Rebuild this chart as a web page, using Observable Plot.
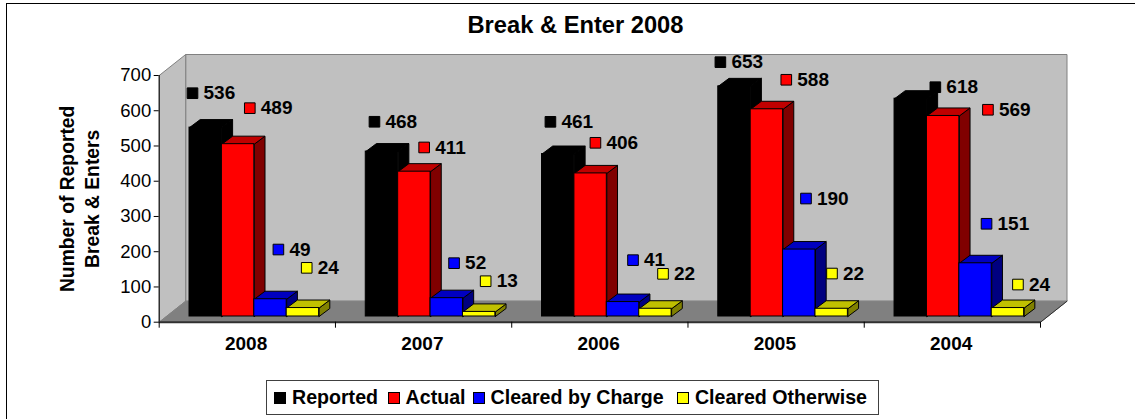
<!DOCTYPE html>
<html>
<head>
<meta charset="utf-8">
<script src="https://cdn.jsdelivr.net/npm/d3@7"></script>
<script src="https://cdn.jsdelivr.net/npm/@observablehq/plot@0.6"></script>
<style>
  html, body { margin: 0; padding: 0; background: #fff; overflow: hidden; }
  #page { position: relative; width: 1135px; height: 419px; overflow: hidden; font-family: "Liberation Sans", Arial, sans-serif; }
  #edge { position: absolute; left: 6px; top: 3px; width: 1200px; height: 500px; border-left: 1.5px solid #000; border-top: 1.5px solid #000; z-index: 2; pointer-events: none; }
  #title { height: 45px; line-height: 51px; text-align: center; font-size: 23.7px; font-weight: 700; color: #000; padding-left: 16px; box-sizing: border-box; }
  #chart svg { display: block; }
  #legend { position: absolute; left: 266px; top: 380px; width: 613px; height: 35px; box-sizing: border-box; border: 1px solid #404040; display: flex; align-items: center; padding-left: 7px; font-size: 19.6px; font-weight: 700; color: #000; white-space: nowrap; }
  #legend i { display: inline-block; width: 10px; height: 10px; border: 1px solid #000; margin-right: 6px; }
  #legend span { display: flex; align-items: center; box-sizing: border-box; }
</style>
</head>
<body>
<div id="page">
  <div id="edge"></div>
  <div id="title">Break &amp; Enter 2008</div>
  <div id="chart"></div>
  <div id="legend"></div>
</div>
<script>
const categories = ["2008", "2007", "2006", "2005", "2004"];
const seriesNames = ["Reported", "Actual", "Cleared by Charge", "Cleared Otherwise"];
const reported = [536, 468, 461, 653, 618];
const actual = [489, 411, 406, 588, 569];
const clearedByCharge = [49, 52, 41, 190, 151];
const clearedOtherwise = [24, 13, 22, 22, 24];
const seriesValues = [reported, actual, clearedByCharge, clearedOtherwise];

// Face colours per series
const frontColors = ["#000000", "#ff0000", "#0000ff", "#ffff00"];
const topColors = ["#000000", "#c00000", "#0000c0", "#c0c000"];
const sideColors = ["#000000", "#800000", "#000080", "#808000"];

// Hand-placed data-label nudges, [right, up] from each bar's front top-left corner, in px
const labelNudges = [
  [[3, 34.4], [8.7, 29.8], [8.4, 32.2], [2.1, 24.2], [40.8, 11.5]],
  [[27.9, 36], [26, 24.2], [21, 30.6], [35.6, 29.5], [61, 6.2]],
  [[24.1, 49.7], [23.5, 35], [26.2, 41.9], [22.9, 51], [27.2, 39.5]],
  [[20, 40.2], [22.7, 30.7], [23.8, 34.9], [16.5, 35.2], [26.2, 23.5]]
];
const legendItemWidths = [113.6, 85, 204.4, 190];

// Layout of the 3D box, in px of the page
const svgTop = 45, svgHeight = 315;
const plotLeft = 158.7, plotRight = 1040, plotTop = 75, plotBottom = 321.7;
const pxPerCat = (plotRight - plotLeft) / categories.length;
const pxPerUnit = (plotBottom - plotTop) / 700;
const toX = (px) => px / pxPerCat;
const toY = (px) => px / pxPerUnit;

const wallDX = toX(26.5), wallDY = toY(21);
const barDX = toX(10.7), barDY = toY(8);
const groupStart = toX(30.3), barW = toX(32.4), barBase = toY(5.7);

const bars = seriesValues.flatMap((vals, s) => vals.map((v, c) => {
  const x1 = c + groupStart + s * barW;
  return {s, c, v, x1, x2: x1 + barW, y1: barBase, y2: barBase + v};
}));

const quad = (id, pts) => pts.concat([pts[0]]).map(([x, y]) => ({id, x, y}));
const sideFaces = (s) => bars.filter(b => b.s === s).flatMap(b => quad(b.c, [
  [b.x2, b.y1], [b.x2 + barDX, b.y1 + barDY], [b.x2 + barDX, b.y2 + barDY], [b.x2, b.y2]
]));
const topFaces = (s) => bars.filter(b => b.s === s).flatMap(b => quad(b.c, [
  [b.x1, b.y2], [b.x2, b.y2], [b.x2 + barDX, b.y2 + barDY], [b.x1 + barDX, b.y2 + barDY]
]));

const n = categories.length;
const backWall = quad("back", [[wallDX, wallDY], [n + wallDX, wallDY], [n + wallDX, 700 + wallDY], [wallDX, 700 + wallDY]]);
const sideWall = quad("side", [[0, 0], [wallDX, wallDY], [wallDX, 700 + wallDY], [0, 700]]);
const floor = quad("floor", [[0, 0], [n, 0], [n + wallDX, wallDY], [wallDX, wallDY]]);
const floorEdge = [{x: n, y: 0}, {x: n + wallDX, y: wallDY}];

const labels = bars.map(b => ({
  s: b.s,
  text: String(b.v),
  x: b.x1 + toX(labelNudges[b.s][b.c][0]),
  y: b.y2 + toY(labelNudges[b.s][b.c][1])
}));

const barMarks = seriesNames.flatMap((_, s) => [
  Plot.line(sideFaces(s), {x: "x", y: "y", z: "id", fill: sideColors[s], stroke: "#000", strokeWidth: 1}),
  Plot.line(topFaces(s), {x: "x", y: "y", z: "id", fill: topColors[s], stroke: "#000", strokeWidth: 1}),
  Plot.rect(bars.filter(b => b.s === s), {x1: "x1", x2: "x2", y1: "y1", y2: "y2", fill: frontColors[s], stroke: "#000", strokeWidth: 1})
]);

const plot = Plot.plot({
  width: 1135,
  height: svgHeight,
  marginLeft: plotLeft,
  marginRight: 1135 - plotRight,
  marginTop: plotTop - svgTop,
  marginBottom: svgTop + svgHeight - plotBottom,
  style: {background: "transparent", fontFamily: "'Liberation Sans', Arial, sans-serif", color: "#000"},
  x: {domain: [0, n]},
  y: {domain: [0, 700]},
  marks: [
    Plot.line(backWall, {x: "x", y: "y", z: "id", fill: "#c0c0c0", stroke: "#808080", strokeWidth: 1}),
    Plot.line(sideWall, {x: "x", y: "y", z: "id", fill: "#c0c0c0", stroke: "#808080", strokeWidth: 1}),
    Plot.line(floor, {x: "x", y: "y", z: "id", fill: "#808080", stroke: "#808080", strokeWidth: 1}),
    Plot.line(floorEdge, {x: "x", y: "y", stroke: "#303030", strokeWidth: 1}),
    ...barMarks,
    Plot.ruleX([0], {y1: 0, y2: 700, stroke: "#000", strokeWidth: 1}),
    Plot.ruleY([0], {x1: 0, x2: n, stroke: "#303030", strokeWidth: 2}),
    Plot.axisY({ticks: d3.range(0, 701, 100), tickSize: 5, tickPadding: 3, fontSize: 18.5, label: null, strokeOpacity: 1, stroke: "#000"}),
    Plot.axisX({ticks: d3.range(0, n + 1), tickSize: 6, tickFormat: () => "", label: null, stroke: "#000", strokeOpacity: 1}),
    Plot.axisX({ticks: categories.map((_, i) => i + 0.493), tickSize: 0, tickPadding: 14, fontSize: 19, fontWeight: 700, label: null,
      tickFormat: (d) => categories[Math.floor(d)]}),
    Plot.text(["Number of Reported\nBreak & Enters"], {
      frameAnchor: "left", dx: -81, dy: 0, rotate: -90, textAnchor: "middle", lineHeight: 1.3,
      fontSize: 19.3, fontWeight: 700, fill: "#000"
    }),
    Plot.dot(labels, {x: "x", y: "y", symbol: "square", r: 6, fill: (d) => frontColors[d.s], stroke: "#000", strokeWidth: 1}),
    Plot.text(labels, {x: "x", y: "y", text: "text", dx: 11, textAnchor: "start", fontSize: 19, fontWeight: 700, fill: "#000"})
  ]
});
document.getElementById("chart").appendChild(plot);

const legend = document.getElementById("legend");
seriesNames.forEach((name, s) => {
  const item = document.createElement("span");
  item.style.width = legendItemWidths[s] + "px";
  const swatch = document.createElement("i");
  swatch.style.background = frontColors[s];
  item.appendChild(swatch);
  item.appendChild(document.createTextNode(name));
  legend.appendChild(item);
});
</script>
</body>
</html>
